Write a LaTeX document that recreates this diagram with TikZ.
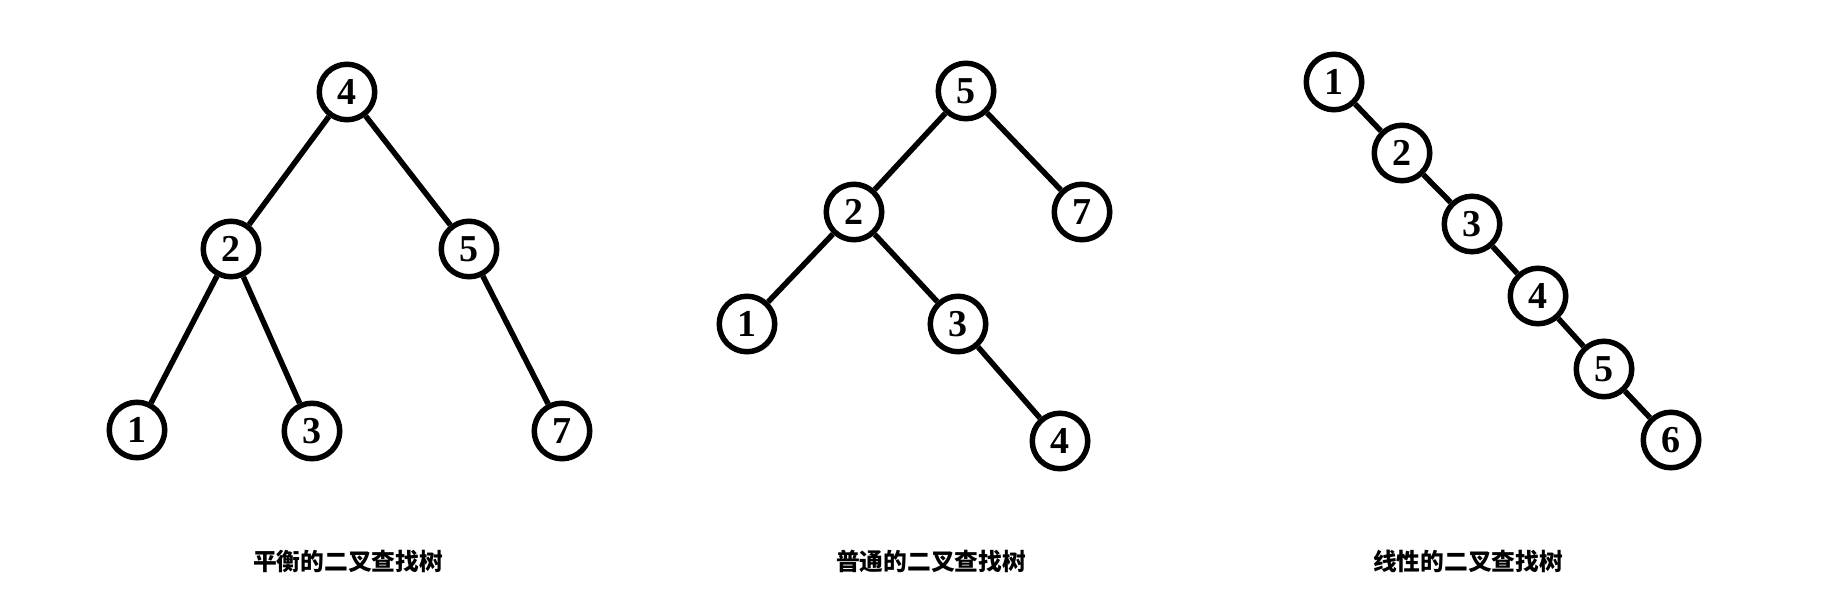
\documentclass[tikz,border=0pt]{standalone}
\usepackage{fontspec}
\setmainfont{Liberation Serif}
\newfontfamily\cjk{Noto Sans CJK SC}
\begin{document}
\begin{tikzpicture}[x=1pt,y=-1pt,line width=5.5pt]
		\tikzstyle{key}=[circle,draw=black,fill=white,text=black,minimum size=55.5pt,inner sep=0pt,font=\fontsize{38}{38}\selectfont\bfseries]
		\tikzstyle{caption}=[font=\fontsize{23.75}{26}\selectfont\cjk\bfseries]
		\useasboundingbox (0,0) rectangle (1833,605);
		
		% balanced
		\node[key] (a4) at (347,92) {4};
		\node[key] (a2) at (231,249) {2};
		\node[key] (a5) at (469,249) {5};
		\node[key] (a1) at (137,430) {1};
		\node[key] (a3) at (312,431) {3};
		\node[key] (a7) at (562,431) {7};
		\node[caption] (ta) at (348,561) {平衡的二叉查找树};
		
		% ordinary
		\node[key] (b5) at (966,91) {5};
		\node[key] (b2) at (854,212) {2};
		\node[key] (b7) at (1082,212) {7};
		\node[key] (b1) at (747,324) {1};
		\node[key] (b3) at (958,324) {3};
		\node[key] (b4) at (1060,441) {4};
		\node[caption] (tb) at (931,561) {普通的二叉查找树};
		
		% linear
		\node[key] (c1) at (1334,82) {1};
		\node[key] (c2) at (1402,153) {2};
		\node[key] (c3) at (1472,224) {3};
		\node[key] (c4) at (1538,296) {4};
		\node[key] (c5) at (1604,369) {5};
		\node[key] (c6) at (1671,440) {6};
		\node[caption] (tc) at (1468,561) {线性的二叉查找树};
		
		\draw (a4) -- (a2) -- (a1);
		\draw (a2) -- (a3);
		\draw (a4) -- (a5) -- (a7);
		\draw (b5) -- (b2) -- (b1);
		\draw (b2) -- (b3) -- (b4);
		\draw (b5) -- (b7);
		\draw (c1) -- (c2) -- (c3) -- (c4) -- (c5) -- (c6);
	\end{tikzpicture}
\end{document}
